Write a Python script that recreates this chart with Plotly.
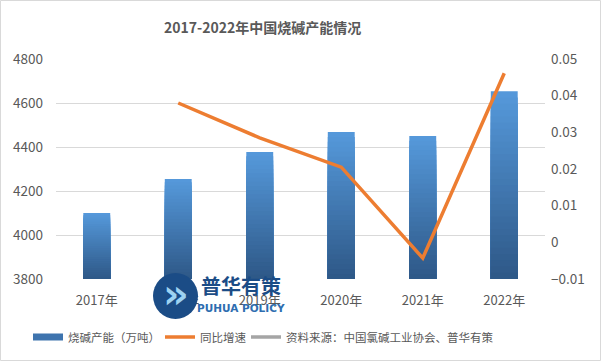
import plotly.graph_objects as go

years = ["2017年", "2018年", "2019年", "2020年", "2021年", "2022年"]
capacity = [4100, 4255, 4377, 4468, 4450, 4653]
growth = [None, 0.038, 0.0285, 0.0205, -0.0043, 0.0461]

W, H = 601, 361
ML, MR, MT, MB = 56, 56, 59, 82
PW, PH = W - ML - MR, H - MT - MB
FONT = "Noto Sans CJK SC, Noto Sans, sans-serif"
GRAY = "#595959"

Y1MIN, Y1MAX = 3800, 4800
N = 30
top_c = (86, 154, 220)
bot_c = (46, 88, 135)

fig = go.Figure()
# gradient bars: overlapping bars, tallest first (light), shortest last (dark)
for i in range(N):
    frac = (N - i) / N
    t = frac - 0.5 / N
    c = tuple(int(bot_c[k] + (top_c[k] - bot_c[k]) * t) for k in range(3))
    heights = [(v - Y1MIN) * frac for v in capacity]
    fig.add_trace(go.Bar(
        x=years, y=heights, base=[Y1MIN] * len(capacity), width=0.33,
        marker=dict(color="rgb(%d,%d,%d)" % c, line=dict(width=0)),
        showlegend=False, hoverinfo="skip", yaxis="y",
    ))

fig.add_trace(go.Scatter(
    x=years, y=growth, mode="lines", yaxis="y2",
    line=dict(color="#ED7D31", width=3.5), name="同比增速", showlegend=False,
))

# legend proxies, each in its own legend for exact placement
fig.add_trace(go.Scatter(x=[None], y=[None], mode="lines", legend="legend",
                         line=dict(color="#3E74AE", width=7), name="烧碱产能（万吨）"))
fig.add_trace(go.Scatter(x=[None], y=[None], mode="lines", legend="legend2",
                         line=dict(color="#ED7D31", width=3.5), name="同比增速"))
fig.add_trace(go.Scatter(x=[None], y=[None], mode="lines", legend="legend3",
                         line=dict(color="#A5A5A5", width=3.5), name="资料来源：中国氯碱工业协会、普华有策"))

def px(x):
    return (x - ML) / PW

def py(y):
    return (H - MB - y) / PH

shapes = [
    dict(type="rect", xref="paper", yref="paper",
         x0=px(0.5), x1=px(600.5), y0=py(360.5), y1=py(0.5),
         line=dict(color="#D9D9D9", width=1), fillcolor="rgba(0,0,0,0)", layer="below"),
    dict(type="circle", xref="paper", yref="paper",
         x0=px(153), x1=px(198), y0=py(319), y1=py(273),
         line=dict(width=0), fillcolor="#1B4C86", layer="above"),
]

def ann(text, x, y, size, color, family):
    return dict(text=text, xref="paper", yref="paper", x=px(x), y=py(y), showarrow=False,
                xanchor="center", yanchor="middle",
                font=dict(size=size, color=color, family=family))

annotations = [
    ann("<b>2017-2022年中国烧碱产能情况</b>", 262, 27, 14, GRAY, FONT),
    ann("<b>»</b>", 176, 294, 40, "#9DD2F2", "DejaVu Sans"),
    ann("<b>普华有策</b>", 241, 285, 20, "#1B4C86", FONT),
    ann("<b>PUHUA POLICY</b>", 241, 308, 10.5, "#2E6DB0", "DejaVu Sans"),
]

def leg(xpix):
    return dict(orientation="h", xref="container", yref="container",
                x=xpix / W, y=1 - 337 / H, xanchor="left", yanchor="middle",
                font=dict(size=11.5, color=GRAY, family=FONT), itemwidth=30,
                bgcolor="rgba(0,0,0,0)", borderwidth=0)

fig.update_layout(
    width=W, height=H,
    margin=dict(l=ML, r=MR, t=MT, b=MB, pad=0, autoexpand=False),
    paper_bgcolor="white", plot_bgcolor="white",
    barmode="overlay",
    font=dict(family=FONT, size=13, color=GRAY),
    xaxis=dict(showgrid=False, showline=False, ticks="", automargin=False,
               tickfont=dict(size=13, color=GRAY), ticklabelstandoff=12),
    yaxis=dict(range=[Y1MIN, Y1MAX], dtick=200, showgrid=True, gridcolor="#D9D9D9", gridwidth=1,
               zeroline=False, showline=False, ticks="", ticklabelstandoff=12, automargin=False,
               tickfont=dict(size=13.5, color=GRAY)),
    yaxis2=dict(range=[-0.01, 0.05], dtick=0.01, overlaying="y", side="right",
                showgrid=False, zeroline=False, showline=False, ticks="", automargin=False,
                ticklabelstandoff=5, tickfont=dict(size=13.5, color=GRAY)),
    legend=leg(28), legend2=leg(160), legend3=leg(246),
    shapes=shapes, annotations=annotations,
)

fig.write_html("out.html", config={"displayModeBar": False},
               post_script="document.body.style.margin='0';document.body.style.overflow='hidden';")
